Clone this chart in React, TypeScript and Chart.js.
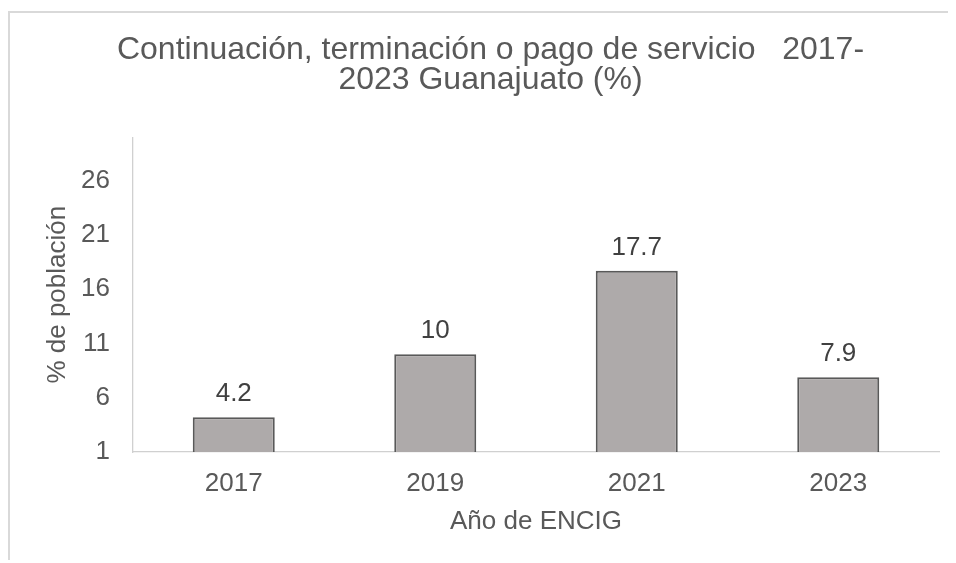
import React, { useEffect, useRef } from "react";
import { Chart, registerables } from "chart.js";

Chart.register(...registerables);

const categories = ["2017", "2019", "2021", "2023"];
const values = [4.2, 10, 17.7, 7.9];
const yTicks = [1, 6, 11, 16, 21, 26];
const titleLines = ["Continuación, terminación o pago de servicio   2017-", "2023 Guanajuato (%)"];
const xTitle = "Año de ENCIG";
const yTitle = "% de población";

const FONT = "'Liberation Sans', Arial, sans-serif";
const TEXT = "#595959";

const dataLabels = {
  id: "dataLabels",
  afterDatasetsDraw(chart: any) {
    const ctx = chart.ctx;
    const meta = chart.getDatasetMeta(0);
    ctx.save();
    ctx.font = `26px ${FONT}`;
    ctx.fillStyle = "#404040";
    ctx.textAlign = "center";
    ctx.textBaseline = "alphabetic";
    meta.data.forEach((bar: any, i: number) => {
      ctx.fillText(String(values[i]), bar.x, bar.y - 16);
    });
    ctx.restore();
  },
};

export default function App() {
  const ref = useRef<HTMLCanvasElement | null>(null);
  useEffect(() => {
    document.body.style.overflow = "hidden";
    const chart = new Chart(ref.current as HTMLCanvasElement, {
      type: "bar",
      data: {
        labels: categories,
        datasets: [
          {
            data: values,
            backgroundColor: "#AEAAAA",
            borderColor: "#595959",
            borderWidth: 2,
            borderSkipped: "bottom",
            barPercentage: 0.407,
            categoryPercentage: 1,
          },
        ],
      },
      options: {
        responsive: false,
        animation: false,
        layout: { padding: { top: 0, left: 32, right: 17, bottom: 25.6 } },
        plugins: {
          legend: { display: false },
          tooltip: { enabled: false },
          title: {
            display: true,
            text: titleLines,
            color: TEXT,
            font: { family: FONT, size: 32, weight: "normal", lineHeight: 0.944 },
            padding: { top: 22, bottom: 42 },
          },
        },
        scales: {
          x: {
            afterFit: (scale: any) => {
              scale.height = 85.4;
            },
            grid: { display: false, drawTicks: false, tickLength: 0 },
            border: { display: true, color: "#d0d0d0", width: 1.3 },
            ticks: { color: TEXT, font: { family: FONT, size: 26, lineHeight: 1.2 }, padding: 16, maxRotation: 0 },
            title: {
              display: true,
              text: xTitle,
              color: TEXT,
              font: { family: FONT, size: 26, lineHeight: 1.2 },
              padding: { top: 7, bottom: 0 },
            },
          },
          y: {
            min: 1,
            max: 30,
            afterBuildTicks: (scale: any) => {
              scale.ticks = yTicks.map((v) => ({ value: v }));
            },
            afterFit: (scale: any) => {
              scale.width = 91;
            },
            grid: { display: false, drawTicks: false, tickLength: 0 },
            border: { display: true, color: "#d0d0d0", width: 1.3 },
            ticks: { color: TEXT, font: { family: FONT, size: 26, lineHeight: 1.2 }, padding: 23 },
            title: {
              display: true,
              text: yTitle,
              color: TEXT,
              font: { family: FONT, size: 26, lineHeight: 1.2 },
              padding: { top: 0, bottom: 0 },
            },
          },
        },
      },
      plugins: [dataLabels],
    });
    return () => chart.destroy();
  }, []);

  return (
    <div
      style={{
        position: "relative",
        top: 3,
        width: 948,
        height: 552,
        borderTop: "2px solid #d9d9d9",
        borderLeft: "2px solid #d9d9d9",
        boxSizing: "border-box",
        background: "#fff",
      }}
    >
      <canvas ref={ref} width={946} height={550} style={{ display: "block" }} />
    </div>
  );
}
